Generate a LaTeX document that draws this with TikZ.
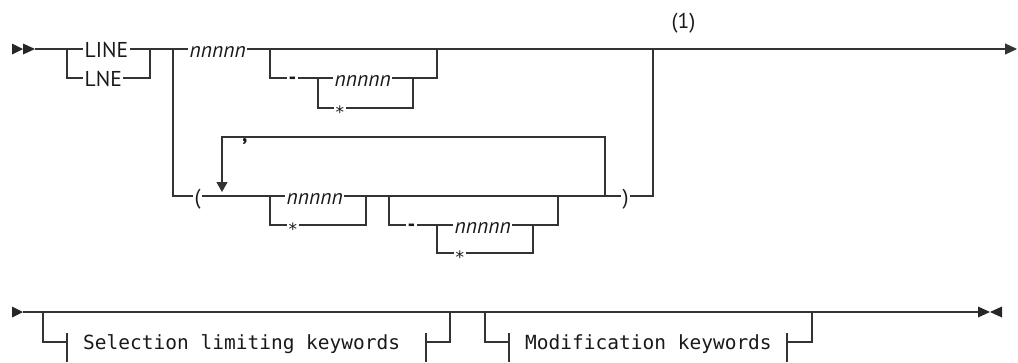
\documentclass[tikz,border=0pt]{standalone}
\usepackage{fontspec}
\newfontfamily\rrsans{PT Sans}
\newfontfamily\rrast{DejaVu Sans}
\newfontfamily\rrmono{DejaVu Sans Mono}
\usetikzlibrary{arrows.meta}
\begin{document}
\begin{tikzpicture}[x=1pt,y=-1pt,
  rr/.style={line width=1.2pt, draw=black!80, line cap=butt},
  lbl/.style={font=\rrsans\fontsize{21.5}{24}\selectfont, inner xsep=1.5pt, inner ysep=0pt, fill=white, anchor=base west, text=black!90},
  itl/.style={lbl, font=\rrsans\itshape\fontsize{21.5}{24}\selectfont},
  bld/.style={lbl, font=\rrsans\bfseries\fontsize{21.5}{24}\selectfont},
  ast/.style={lbl, font=\rrast\fontsize{17}{20}\selectfont},
  mono/.style={font=\rrmono\fontsize{19.5}{22}\selectfont, inner sep=0pt, anchor=base west, text=black!90},
  tri/.style={fill=black!85},
  endarr/.style={-{Triangle[length=12pt,width=11pt]}},
  looparr/.style={-{Triangle[length=10pt,width=11pt]}}]
\useasboundingbox (0,0) rectangle (1018,362);
% ---------- top row coordinates
\coordinate (s0) at (35,49);
\coordinate (a1) at (67,49);  \coordinate (a1d) at (67,78);
\coordinate (a2) at (150,49); \coordinate (a2d) at (150,78);
\coordinate (b1) at (173,49); \coordinate (b1d) at (173,196);
\coordinate (c1) at (270,49); \coordinate (c1d) at (270,78);
\coordinate (c2) at (318,78); \coordinate (c2d) at (318,108);
\coordinate (c3) at (413,78); \coordinate (c3d) at (413,108);
\coordinate (c4) at (437,49); \coordinate (c4d) at (437,78);
\coordinate (b2) at (653,49); \coordinate (b2d) at (653,196);
\coordinate (e1) at (1017,49);
\coordinate (l0) at (222,137); \coordinate (l1) at (222,192);
\coordinate (l2) at (605,137); \coordinate (l3) at (605,196);
\coordinate (d1) at (270,196); \coordinate (d1d) at (270,225);
\coordinate (d2) at (366,196); \coordinate (d2d) at (366,225);
\coordinate (f1) at (389,196); \coordinate (f1d) at (389,225);
\coordinate (f4) at (558,196); \coordinate (f4d) at (558,225);
\coordinate (f2) at (437,225); \coordinate (f2d) at (437,253);
\coordinate (f3) at (533,225); \coordinate (f3d) at (533,253);
% ---------- bottom row coordinates
\coordinate (g0) at (23,312); \coordinate (g9) at (978,312);
\coordinate (h1) at (43,312); \coordinate (h2) at (67,342);
\coordinate (h3) at (426,342); \coordinate (h4d) at (450,342); \coordinate (h4) at (450,312);
\coordinate (k1) at (485,312); \coordinate (k2) at (509,342);
\coordinate (k3) at (787,342); \coordinate (k4d) at (812,342); \coordinate (k4) at (812,312);
\coordinate (t1a) at (67,333);  \coordinate (t1b) at (67,362);
\coordinate (t2a) at (426,333); \coordinate (t2b) at (426,362);
\coordinate (t3a) at (509,333); \coordinate (t3b) at (509,362);
\coordinate (t4a) at (787,333); \coordinate (t4b) at (787,362);
% ---------- lines
\draw[rr,endarr] (s0) -- (e1);
\draw[rr] (a1) |- (a2d) -- (a2);
\draw[rr] (c1) |- (c4d) -- (c4);
\draw[rr] (c2) |- (c3d) -- (c3);
\draw[rr] (b1) |- (b2d) -- (b2);
\draw[rr,looparr] (l3) |- (l0) -- (l1);
\draw[rr] (d1) |- (d2d) -- (d2);
\draw[rr] (f1) |- (f4d) -- (f4);
\draw[rr] (f2) |- (f3d) -- (f3);
\draw[rr] (g0) -- (g9);
\draw[rr] (h1) |- (h2);
\draw[rr] (h3) -- (h4d) -- (h4);
\draw[rr] (k1) |- (k2);
\draw[rr] (k3) -- (k4d) -- (k4);
\draw[rr] (t1a) -- (t1b);
\draw[rr] (t2a) -- (t2b);
\draw[rr] (t3a) -- (t3b);
\draw[rr] (t4a) -- (t4b);
% ---------- start / end marks
\fill[tri] (12,43.5) -- (23,49) -- (12,54.5) -- cycle;
\fill[tri] (23,43.5) -- (35,49) -- (23,54.5) -- cycle;
\fill[tri] (12,306.5) -- (23,312) -- (12,317.5) -- cycle;
\fill[tri] (978,306.5) -- (990,312) -- (978,317.5) -- cycle;
\fill[tri] (1002,306.5) -- (990,312) -- (1002,317.5) -- cycle;
% ---------- texts
\node[lbl] (tLINE) at (83,57.5) {LINE};
\node[lbl] (tLNE) at (83,86.5) {LNE};
\node[itl] (tn1) at (188,57.5) {nnnnn};
\node[bld] (td1) at (287,84.5) {-};
\node[itl] (tn2) at (333,86.5) {nnnnn};
\node[ast] (ts1) at (334,118) {*};
\node[lbl] (tpo) at (193,204) {(};
\node[itl] (tn3) at (285,204.5) {nnnnn};
\node[ast] (ts2) at (287,235) {*};
\node[bld] (td2) at (406,231.5) {-};
\node[itl] (tn4) at (453,233.5) {nnnnn};
\node[ast] (ts3) at (454,263) {*};
\node[lbl] (tpc) at (621,204) {)};
\node[lbl,fill=none] (tfn) at (670,28) {(1)};
\node[bld,inner xsep=4pt] (tcm) at (238,141) {,};
\node[mono] (tsel) at (83,349) {Selection limiting keywords};
\node[mono] (tmod) at (525,349) {Modification keywords};
\end{tikzpicture}
\end{document}
